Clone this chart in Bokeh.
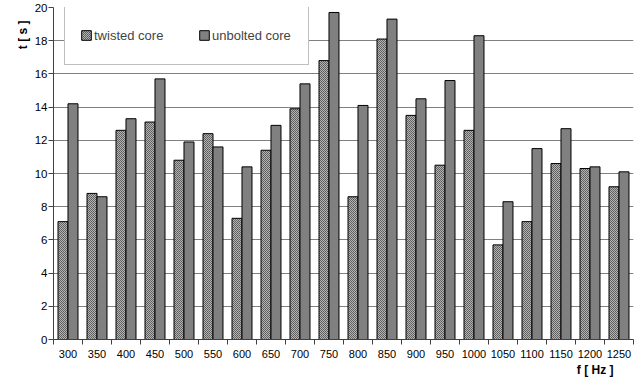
from bokeh.plotting import figure
from bokeh.models import FixedTicker, Legend, LegendItem, Range1d, ColumnDataSource, Title
from bokeh.embed import file_html
from bokeh.resources import INLINE

freqs = [300, 350, 400, 450, 500, 550, 600, 650, 700, 750,
         800, 850, 900, 950, 1000, 1050, 1100, 1150, 1200, 1250]
twisted = [7.1, 8.8, 12.6, 13.1, 10.8, 12.4, 7.3, 11.4, 13.9, 16.8,
           8.6, 18.1, 13.5, 10.5, 12.6, 5.7, 7.1, 10.6, 10.3, 9.2]
unbolted = [14.2, 8.6, 13.3, 15.7, 11.9, 11.6, 10.4, 12.9, 15.4, 19.7,
            14.1, 19.3, 14.5, 15.6, 18.3, 8.3, 11.5, 12.7, 10.4, 10.1]
y_ticks = list(range(0, 21, 2))

FONT = "Liberation Sans"
idx = list(range(len(freqs)))

src = ColumnDataSource(dict(
    x1=[i - 0.172 for i in idx],
    x2=[i + 0.172 for i in idx],
    t=twisted, u=unbolted))

FRAME_H = 332
p = figure(width=643, height=378, output_backend="svg", toolbar_location=None,
           x_range=Range1d(-0.5, len(freqs) - 0.5), y_range=Range1d(0, 20),
           min_border_left=53, min_border_right=10, min_border_top=7, min_border_bottom=39)
p.background_fill_color = "white"
p.border_fill_color = "white"
p.outline_line_color = None

r1 = p.vbar(x="x1", top="t", width=0.345, source=src,
            fill_color="#b4b4b4", line_color="#000000", line_width=1,
            hatch_pattern="diagonal_cross", hatch_scale=2, hatch_color="#5a5a5a", hatch_weight=1)
r2 = p.vbar(x="x2", top="u", width=0.345, source=src,
            fill_color="#808080", line_color="#000000", line_width=1)

# axes
p.xaxis.ticker = FixedTicker(ticks=idx, minor_ticks=[i - 0.5 for i in range(len(freqs) + 1)])
p.xaxis.major_label_overrides = {i: str(f) for i, f in zip(idx, freqs)}
p.xaxis.major_tick_out = 0
p.xaxis.major_tick_in = 0
p.xaxis.minor_tick_out = 5
p.xaxis.minor_tick_in = 0
p.xaxis.minor_tick_line_color = "#404040"
p.xaxis.major_label_standoff = 5
p.xaxis.axis_line_color = "#404040"

p.yaxis.ticker = FixedTicker(ticks=y_ticks)
p.yaxis.major_tick_out = 5
p.yaxis.major_tick_in = 0
p.yaxis.major_tick_line_color = "#404040"
p.yaxis.minor_tick_line_color = None
p.yaxis.major_label_standoff = 1
p.yaxis.axis_line_color = "#404040"

for ax in (p.xaxis[0], p.yaxis[0]):
    ax.major_label_text_font = FONT
    ax.major_label_text_font_size = "11.5px"
    ax.major_label_text_color = "#000000"
p.xaxis.major_label_text_font_size = "11px"

p.xgrid.grid_line_color = None
p.ygrid.ticker = FixedTicker(ticks=y_ticks)
p.ygrid.grid_line_color = "#808080"
p.ygrid.grid_line_width = 1

# axis titles
p.add_layout(Title(text="f [ Hz ]", align="right", offset=20, standoff=0,
                   text_font=FONT, text_font_size="12px", text_font_style="bold",
                   text_color="#000000"), "below")
p.add_layout(Title(text="t [ s ]", align="right", offset=13, standoff=4,
                   text_font=FONT, text_font_size="12px", text_font_style="bold",
                   text_color="#000000"), "left")

legend = Legend(items=[LegendItem(label="twisted core", renderers=[r1]),
                       LegendItem(label="unbolted core", renderers=[r2])],
                location=(11, FRAME_H - 58), orientation="horizontal",
                padding=15, spacing=23, margin=0,
                label_width=81, label_height=28, glyph_width=12, glyph_height=12,
                label_standoff=2,
                label_text_font=FONT, label_text_font_size="13px",
                border_line_color="#808080", border_line_width=1,
                background_fill_color="white", background_fill_alpha=1)
p.add_layout(legend, "center")

open("out.html", "w").write(file_html(p, INLINE))
